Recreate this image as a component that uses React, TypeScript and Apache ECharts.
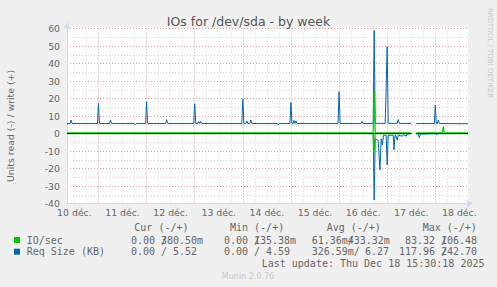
import React, { useEffect, useRef } from 'react';
import * as echarts from 'echarts';

// x values are hours since 10 déc. 00:00
const dayLabels = ['10 déc.', '11 déc.', '12 déc.', '13 déc.', '14 déc.', '15 déc.', '16 déc.', '17 déc.', '18 déc.'];
const labelHours = [12, 36, 60, 84, 108, 132, 156, 180, 204];
const majorGridHours = [24, 48, 72, 96, 120, 144, 168, 192];
const minorGridHours = [12, 18, 30, 36, 42, 54, 60, 66, 78, 84, 90, 102, 108, 114, 126, 132, 138, 150, 156, 162, 174, 180, 186, 198, 204];

type Pt = [number, number | null];

// Req Size (KB), write (+)
const writeReqSize: Pt[] = [
  [8.3, 5.7], [9.8, 5.7], [10.3, 7.7], [10.8, 5.7],
  [23.5, 5.7], [24, 17.3], [24.5, 5.7],
  [29.5, 5.7], [30, 7.7], [30.5, 5.7],
  [41.7, 5.7], [42.2, 5.0], [42.7, 5.7],
  [47.5, 5.7], [48, 18.2], [48.5, 5.7],
  [57.5, 5.7], [58, 7.9], [58.5, 5.7],
  [71.5, 5.7], [72, 17.0], [72.5, 5.7],
  [73.5, 5.7], [74, 6.9], [74.5, 5.7], [75, 6.9], [75.5, 5.7],
  [95.5, 5.7], [96, 19.8], [96.5, 5.7],
  [97.5, 5.7], [98, 7.2], [98.5, 5.7], [99.5, 5.7], [100, 7.7], [100.5, 5.7],
  [113.2, 5.7], [113.7, 5.0], [114.2, 5.7],
  [119.5, 5.7], [120, 17.6], [120.5, 5.7],
  [121, 5.7], [121.5, 7.5], [122, 5.7], [122.5, 7.2], [123, 5.7],
  [143.5, 5.7], [144, 23.9], [144.5, 5.7],
  [155, 5.7], [155.5, 7.0], [156, 5.7],
  [161, 5.7], [161.5, 59.0], [162, 5.8],
  [167, 5.8], [167.5, 27.0], [168, 49.6], [168.5, 5.8],
  [173, 5.8], [173.5, 8.0], [174, 5.8],
  [180, 5.7], [181, null],
  [182.5, 5.7],
  [191.5, 5.7], [192, 16.3], [192.5, 5.7],
  [193, 5.7], [193.5, 7.7], [194, 5.7],
  [208.3, 5.6],
];

// Req Size (KB), read (-) — magnitudes, drawn downwards
const readReqSize: Pt[] = [
  [8.3, 0], [161, 0], [161.5, 38], [162, 3], [163.5, 4], [164.4, 20.9], [165, 3],
  [165.6, 6.6], [166.2, 1], [167.5, 1], [168, 18], [168.5, 1], [171, 1], [171.4, 9.4],
  [171.9, 1], [172.5, 1.5], [173, 3.8], [173.5, 1], [175.4, 1.5], [176.3, 0.8],
  [177.5, 1.5], [178, 0.3], [180, 0], [181, null],
  [182.5, 0], [183.5, 0.3], [184, 2.4], [184.5, 0.3], [192.2, 0], [192.7, 0.9],
  [193.2, 0], [208.3, 0],
];

// IO/sec, write (+)
const ioWrite: Pt[] = [
  [8.3, 0.43], [161, 0.43], [161.5, 23.9], [162, 0.5], [180, 0.43], [181, null],
  [182.5, 0.43], [195.5, 0.43], [196, 3.9], [196.5, 0.43], [208.3, 0.43],
];

// IO/sec, read (-) — magnitudes
const ioRead: Pt[] = [
  [8.3, 0.06], [161, 0.06], [161.5, 11], [162, 0.06], [180, 0.06], [181, null], [182.5, 0.06], [208.3, 0.06],
];

const legendNames = ['IO/sec', 'Req Size (KB)'];
const legendColors = ['#00CC00', '#0066B3'];
const columnHeaders = ['Cur (-/+)', 'Min (-/+)', 'Avg (-/+)', 'Max (-/+)'];
const readStats = [
  ['0.00 /', '0.00 /', '61.36m/', '83.32 /'],
  ['0.00 /', '0.00 /', '326.59m/', '117.96 /'],
];
const writeStats = [
  ['380.50m', '135.38m', '433.32m', '106.48'],
  ['5.52', '4.59', '6.27', '242.70'],
];
const lastUpdate = 'Last update: Thu Dec 18 15:30:18 2025';

const readX = [
  [131, 224, 311.7, 405],
  [131, 224, 311.7, 399],
];
const writeX = [
  [161, 254, 347.7, 441],
  [173, 266, 365, 441],
];
const headerX = [134.3, 230, 326.7, 422.7];
const rowY = [240, 251.7];

const toSeries = (pts: Pt[], sign: number) =>
  pts.map(([x, v]) => [x, v === null ? '-' : sign * v]);

const MONO = '10px "DejaVu Sans Mono"';
const FONT = '#666666';

export default function App() {
  const ref = useRef<HTMLDivElement>(null);
  useEffect(() => {
    const chart = echarts.init(ref.current!, null, { renderer: 'svg' });

    const graphic: any[] = [];
    graphic.push({
      type: 'text', x: 10, y: 126, rotation: Math.PI / 2,
      style: { text: 'Units read (-) / write (+)', fill: FONT, font: '9.33px "DejaVu Sans"', align: 'center', verticalAlign: 'middle' },
    });
    graphic.push({
      type: 'text', x: 490, y: 53, rotation: -Math.PI / 2,
      style: { text: 'RRDTOOL / TOBI OETIKER', fill: '#C8C8C8', font: '7px "DejaVu Sans"', align: 'center', verticalAlign: 'middle' },
    });
    columnHeaders.forEach((h, i) => {
      graphic.push({ type: 'text', x: headerX[i], y: 227.3, style: { text: h, fill: FONT, font: MONO, verticalAlign: 'middle' } });
    });
    legendNames.forEach((n, r) => {
      graphic.push({ type: 'rect', shape: { x: 14, y: rowY[r] - 3, width: 6, height: 6 }, style: { fill: legendColors[r] } });
      graphic.push({ type: 'text', x: 26.7, y: rowY[r], style: { text: n, fill: FONT, font: MONO, verticalAlign: 'middle' } });
      for (let c = 0; c < 4; c++) {
        graphic.push({ type: 'text', x: readX[r][c], y: rowY[r], style: { text: readStats[r][c], fill: FONT, font: MONO, verticalAlign: 'middle' } });
        graphic.push({ type: 'text', x: writeX[r][c], y: rowY[r], style: { text: writeStats[r][c], fill: FONT, font: MONO, verticalAlign: 'middle' } });
      }
    });
    graphic.push({ type: 'text', x: 261.7, y: 263.3, style: { text: lastUpdate, fill: FONT, font: MONO, verticalAlign: 'middle' } });
    graphic.push({ type: 'text', x: 248, y: 276.7, style: { text: 'Munin 2.0.76', fill: '#C8C8C8', font: '8px "DejaVu Sans"', align: 'center', verticalAlign: 'middle' } });

    const vGrid = [
      ...minorGridHours.map((h) => ({ xAxis: h, lineStyle: { color: '#D4D4D4', type: [1, 2], width: 1 } })),
      ...majorGridHours.map((h) => ({ xAxis: h, lineStyle: { color: '#E8A0A0', type: [1, 2], width: 1 } })),
    ];

    const lineBase = { type: 'line', showSymbol: false, symbol: 'none', connectNulls: false, silent: true };

    chart.setOption({
      animation: false,
      backgroundColor: '#F0F0F0',
      title: {
        text: 'IOs for /dev/sda - by week', left: 'center', top: 10,
        textStyle: { fontFamily: 'DejaVu Sans', fontSize: 12.5, fontWeight: 'normal', color: '#555555' },
      },
      grid: { left: 67, top: 28.5, width: 401, height: 175, show: true, backgroundColor: '#FFFFFF', borderWidth: 0 },
      xAxis: {
        type: 'value', min: 8.3, max: 208.3,
        axisLine: { show: true, onZero: false, lineStyle: { color: '#CFD6F8', width: 1 }, symbol: ['none', 'arrow'], symbolSize: [6, 7], symbolOffset: [0, 5] },
        axisTick: { show: false },
        splitLine: { show: false },
        axisLabel: {
          customValues: labelHours,
          formatter: (v: number) => { const i = labelHours.indexOf(Math.round(v)); return i >= 0 ? dayLabels[i] : ''; },
          color: FONT, fontFamily: 'DejaVu Sans', fontSize: 9.33, margin: 4,
        },
      },
      yAxis: {
        type: 'value', min: -40, max: 60, interval: 10,
        axisLine: { show: true, onZero: false, lineStyle: { color: '#CFD6F8', width: 1 }, symbol: ['none', 'arrow'], symbolSize: [6, 7], symbolOffset: [0, 6] },
        axisTick: { show: false },
        axisLabel: { color: FONT, fontFamily: 'DejaVu Sans', fontSize: 9.33, margin: 7 },
        splitLine: { show: true, lineStyle: { color: '#E8A0A0', type: [1, 2], width: 1 } },
        minorTick: { show: false, splitNumber: 2 },
        minorSplitLine: { show: true, lineStyle: { color: '#D4D4D4', type: [1, 2], width: 1 } },
      },
      graphic,
      series: [
        {
          ...lineBase, name: 'Req Size read', z: 3,
          data: toSeries(readReqSize, -1),
          lineStyle: { color: '#0066B3', width: 1 },
          markLine: { silent: true, z: 1, symbol: ['none', 'none'], label: { show: false }, emphasis: { disabled: true }, data: vGrid },
        },
        { ...lineBase, name: 'Req Size write', z: 3, data: toSeries(writeReqSize, 1), lineStyle: { color: '#0066B3', width: 1 } },
        { ...lineBase, name: 'IO read', z: 4, data: toSeries(ioRead, -1), lineStyle: { color: '#00CC00', width: 1.2 } },
        { ...lineBase, name: 'zero', z: 5, data: ioRead.map(([x, v]) => [x, v === null ? '-' : 0]), lineStyle: { color: '#000000', width: 1 } },
        { ...lineBase, name: 'IO write', z: 6, data: toSeries(ioWrite, 1), lineStyle: { color: '#00CC00', width: 1.2 } },
      ],
    });
    return () => chart.dispose();
  }, []);
  return <div ref={ref} style={{ position: 'absolute', left: 0, top: 0, width: 497, height: 287 }} />;
}
